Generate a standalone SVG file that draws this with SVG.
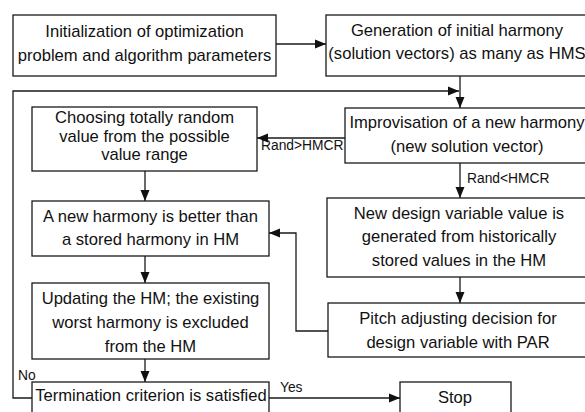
<svg xmlns="http://www.w3.org/2000/svg" width="585" height="412" viewBox="0 0 585 412">
  <style>
    .box { fill: #fff; stroke: #1a1a1a; stroke-width: 1.3; }
    .t { font-family: "Liberation Sans", Arial, sans-serif; font-size: 16.6px; fill: #111; text-anchor: middle; }
    .lbl { font-family: "Liberation Sans", Arial, sans-serif; font-size: 13.8px; fill: #111; }
    .wire { fill: none; stroke: #1a1a1a; stroke-width: 1.3; }
  </style>
  <defs>
    <marker id="arrow" markerUnits="userSpaceOnUse" markerWidth="12" markerHeight="10" refX="11" refY="5" orient="auto">
      <path d="M0,0.5 L11,5 L0,9.5 z" fill="#111"/>
    </marker>
  </defs>
  <rect width="585" height="412" fill="#fff"/>

  <!-- connectors -->
  <g id="connectors">
    <path class="wire" d="M276,44 H326" marker-end="url(#arrow)"/>
    <path class="wire" d="M460,76 V108" marker-end="url(#arrow)"/>
    <path class="wire" d="M32,398 H13 V91 H459" marker-end="url(#arrow)"/>
    <path class="wire" d="M345,138 H257" marker-end="url(#arrow)"/>
    <path class="wire" d="M460,163 V198" marker-end="url(#arrow)"/>
    <path class="wire" d="M145,171 V201" marker-end="url(#arrow)"/>
    <path class="wire" d="M145,256 V283" marker-end="url(#arrow)"/>
    <path class="wire" d="M145,359 V382" marker-end="url(#arrow)"/>
    <path class="wire" d="M460,277 V303" marker-end="url(#arrow)"/>
    <path class="wire" d="M328,331 H296 V233 H269" marker-end="url(#arrow)"/>
    <path class="wire" d="M269,398 H400" marker-end="url(#arrow)"/>
    <text class="lbl" x="261" y="150">Rand&gt;HMCR</text>
    <text class="lbl" x="467" y="183">Rand&lt;HMCR</text>
    <text class="lbl" x="280" y="392">Yes</text>
    <text class="lbl" x="18" y="380">No</text>
  </g>

  <g id="init">
    <rect class="box" x="13" y="15" width="263" height="61"/>
    <text class="t" x="144.5" y="37">Initialization of optimization</text>
    <text class="t" x="144.5" y="61">problem and algorithm parameters</text>
  </g>

  <g id="generation">
    <rect class="box" x="326" y="15" width="264" height="61"/>
    <text class="t" x="457" y="36">Generation of initial harmony</text>
    <text class="t" x="457" y="59">(solution vectors) as many as HMS</text>
  </g>

  <g id="improvisation">
    <rect class="box" x="345" y="108" width="245" height="55"/>
    <text class="t" x="467" y="128">Improvisation of a new harmony</text>
    <text class="t" x="467" y="152">(new solution vector)</text>
  </g>

  <g id="random-choice">
    <rect class="box" x="32" y="107" width="225" height="64"/>
    <text class="t" x="144.5" y="123">Choosing totally random</text>
    <text class="t" x="144.5" y="141.5">value from the possible</text>
    <text class="t" x="144.5" y="160">value range</text>
  </g>

  <g id="comparison">
    <rect class="box" x="32" y="201" width="237" height="55"/>
    <text class="t" x="150.5" y="222">A new harmony is better than</text>
    <text class="t" x="150.5" y="245">a stored harmony in HM</text>
  </g>

  <g id="memory-value">
    <rect class="box" x="327" y="198" width="263" height="79"/>
    <text class="t" x="459" y="219">New design variable value is</text>
    <text class="t" x="459" y="242">generated from historically</text>
    <text class="t" x="459" y="266">stored values in the HM</text>
  </g>

  <g id="update">
    <rect class="box" x="32" y="283" width="237" height="76"/>
    <text class="t" x="150.5" y="304">Updating the HM; the existing</text>
    <text class="t" x="150.5" y="328">worst harmony is excluded</text>
    <text class="t" x="150.5" y="352">from the HM</text>
  </g>

  <g id="pitch">
    <rect class="box" x="328" y="303" width="262" height="54"/>
    <text class="t" x="458" y="324">Pitch adjusting decision for</text>
    <text class="t" x="458" y="348">design variable with PAR</text>
  </g>

  <g id="termination">
    <rect class="box" x="32" y="382" width="237" height="40"/>
    <text class="t" x="151" y="401">Termination criterion is satisfied</text>
  </g>

  <g id="stop">
    <rect class="box" x="400" y="382" width="111" height="40"/>
    <text class="t" x="455" y="403">Stop</text>
  </g>
</svg>
